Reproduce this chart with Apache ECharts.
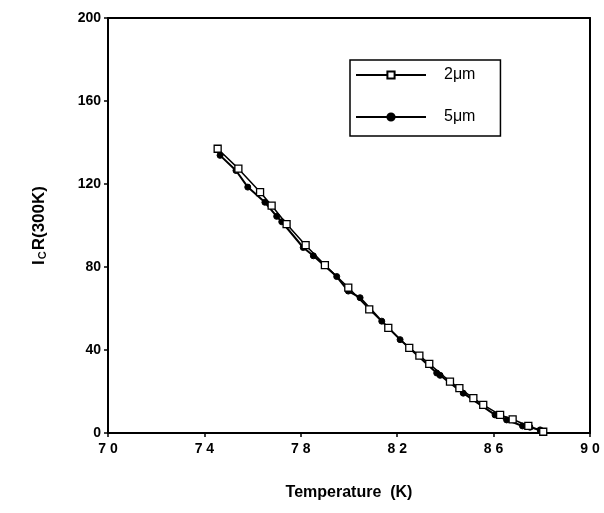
<!DOCTYPE html>
<html>
<head>
<meta charset="utf-8">
<script src="https://cdn.jsdelivr.net/npm/echarts@6/dist/echarts.min.js"></script>
<style>
html,body{margin:0;padding:0;background:#fff;}
#chart{width:604px;height:513px;}
</style>
</head>
<body>
<div id="chart"></div>
<script>
// Data
var seriesNames = ['2\u03bcm', '5\u03bcm'];
var temp2um = [74.55, 75.41, 76.31, 76.79, 77.41, 78.2, 79.00, 79.97, 80.84, 81.63, 82.50, 82.92, 83.33, 84.19, 84.58, 85.16, 85.57, 86.27, 86.79, 87.44, 88.06];
var val2um  = [137.0, 127.4, 116.1, 109.6, 100.7, 90.5, 80.9, 70.1, 59.6, 50.7, 41.0, 37.3, 33.3, 24.8, 21.6, 16.8, 13.6, 8.7, 6.6, 3.4, 0.6];
var temp5um = [74.65, 75.31, 75.80, 76.51, 77.00, 77.21, 78.10, 78.52, 79.49, 79.97, 80.46, 81.36, 82.12, 83.64, 83.78, 84.74, 86.06, 86.54, 87.20, 87.51, 87.93, 88.05];
var val5um  = [133.8, 126.5, 118.5, 111.2, 104.4, 101.8, 89.4, 85.4, 75.4, 68.4, 65.2, 53.9, 45.0, 28.9, 27.8, 19.2, 8.7, 6.3, 3.4, 2.8, 1.5, 0.2];
var xTicks = [70, 74, 78, 82, 86, 90];
var yTicks = [0, 40, 80, 120, 160, 200];

function pairs(xs, ys){ return xs.map(function(x,i){ return [x, ys[i]]; }); }

var chart = echarts.init(document.getElementById('chart'), null, {renderer:'canvas'});
var fontFam = '"Liberation Sans", Arial, Helvetica, sans-serif';
var frameAxisX = {type:'value', min:70, max:90, position:'top', axisLine:{show:true, onZero:false, lineStyle:{color:'#000', width:2}}, axisTick:{show:false}, axisLabel:{show:false}, splitLine:{show:false}};
var frameAxisY = {type:'value', min:0, max:200, position:'right', axisLine:{show:true, onZero:false, lineStyle:{color:'#000', width:2}}, axisTick:{show:false}, axisLabel:{show:false}, splitLine:{show:false}};
chart.setOption({
  backgroundColor: '#ffffff',
  animation: false,
  grid: {left: 108, right: 14, top: 18, bottom: 80, show: false},
  legend: {
    orient: 'vertical',
    left: 350, top: 60,
    padding: [7, 25, 11, 5],
    itemWidth: 70, itemHeight: 9, itemGap: 26,
    borderColor: '#000', borderWidth: 1.5,
    textStyle: {fontFamily: fontFam, fontSize: 16, color: '#000', padding: [0,0,0,13]},
    data: seriesNames
  },
  xAxis: [{
    type: 'value', min: 70, max: 90, interval: 4,
    name: 'Temperature  (K)', nameLocation: 'middle', nameGap: 52,
    nameTextStyle: {fontFamily: fontFam, fontSize: 16, fontWeight: 'bold', color: '#000'},
    axisLine: {show: true, onZero: false, lineStyle: {color: '#000', width: 2}},
    axisTick: {show: true, length: 4, lineStyle: {color: '#000', width: 1.5}},
    axisLabel: {
      fontFamily: fontFam, fontSize: 14, fontWeight: 'bold', color: '#000', margin: 9,
      formatter: function(v){ return String(v).split('').join(' '); }
    },
    splitLine: {show: false}
  }, frameAxisX],
  yAxis: [{
    type: 'value', min: 0, max: 200, interval: 40,
    name: '{b|I}{s|C}{b|R(300K)}', nameLocation: 'middle', nameGap: 60, nameRotate: 90,
    nameTextStyle: {
      rich: {
        b: {fontFamily: fontFam, fontSize: 17, fontWeight: 'bold', color: '#000'},
        s: {fontFamily: fontFam, fontSize: 11, fontWeight: 'bold', color: '#000', verticalAlign: 'bottom', padding: [7,1,0,1]}
      }
    },
    axisLine: {show: true, onZero: false, lineStyle: {color: '#000', width: 2}},
    axisTick: {show: true, length: 4, lineStyle: {color: '#000', width: 1.5}},
    axisLabel: {fontFamily: fontFam, fontSize: 14, fontWeight: 'bold', color: '#000', margin: 7},
    splitLine: {show: false}
  }, frameAxisY],
  series: [
    {
      name: seriesNames[0], type: 'line', data: pairs(temp2um, val2um),
      symbol: 'rect', symbolSize: 7, showAllSymbol: true,
      lineStyle: {color: '#000', width: 1.5},
      itemStyle: {color: '#fff', borderColor: '#000', borderWidth: 1.3},
      z: 3
    },
    {
      name: seriesNames[1], type: 'line', data: pairs(temp5um, val5um),
      symbol: 'circle', symbolSize: 6, showAllSymbol: true,
      lineStyle: {color: '#000', width: 2},
      itemStyle: {color: '#000', borderColor: '#000', borderWidth: 1},
      z: 2
    }
  ]
});
</script>
</body>
</html>
